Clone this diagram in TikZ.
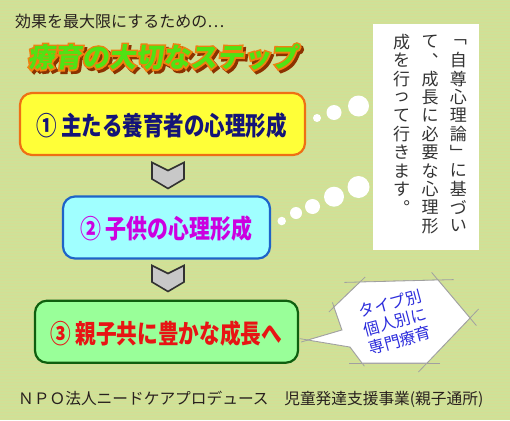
\documentclass[tikz,border=0pt]{standalone}
\usepackage{fontspec}
\usepackage{graphicx}
\newfontfamily\jp{Noto Sans CJK JP}
\newfontfamily\jpt[FakeSlant=0.12]{Noto Sans CJK JP}
\newfontfamily\jpto[FakeSlant=0.12,FakeBold=12,BoldFeatures={FakeBold=12}]{Noto Sans CJK JP}
\usetikzlibrary{calc}
\definecolor{bg}{RGB}{206,226,152}
\definecolor{bgA}{RGB}{222,218,146}
\definecolor{subtxt}{RGB}{40,32,30}
\definecolor{ttlgreen}{RGB}{80,226,20}
\definecolor{ttlorange}{RGB}{240,128,16}
\definecolor{ttlbrown}{RGB}{140,50,0}
\definecolor{yfill}{RGB}{255,255,56}
\definecolor{yline}{RGB}{238,112,20}
\definecolor{navytxt}{RGB}{20,20,120}
\definecolor{cfill}{RGB}{160,255,255}
\definecolor{cline}{RGB}{30,100,200}
\definecolor{purptxt}{RGB}{204,0,224}
\definecolor{gfill}{RGB}{153,255,153}
\definecolor{gline}{RGB}{15,95,15}
\definecolor{redtxt}{RGB}{232,20,20}
\definecolor{chevfill}{RGB}{200,200,200}
\definecolor{chevline}{RGB}{50,50,50}
\definecolor{vtxt}{RGB}{51,51,51}
\definecolor{bubtxt}{RGB}{44,44,220}
\definecolor{bubline}{RGB}{160,160,160}
\begin{document}
\begin{tikzpicture}[x=1pt,y=-1pt,
  stepbox/.style={rounded corners=12pt, line width=2.2pt, inner sep=0},
  steptxt/.style={inner sep=0, font=\jp\bfseries\fontsize{26}{30}\selectfont},
  chev/.style={fill=chevfill, draw=chevline, line width=1.6pt, line join=miter},
  dot/.style={circle, fill=white, inner sep=0},
  ttl/.style={inner sep=0, font=\jpt\bfseries\fontsize{27}{30}\selectfont},
  ttlo/.style={inner sep=0, font=\jpto\bfseries\fontsize{27}{30}\selectfont},
  vchar/.style={inner sep=0, text=vtxt, font=\jp\fontsize{17}{18}\selectfont},
  bubedge/.style={draw=bubline, line width=0.8pt}
]
\fill[bg] (0,0) rectangle (510,420);
\useasboundingbox (0,0) rectangle (510,420);
% light texture
\foreach \yy in {1,4,...,419} {
  \draw[bgA, line width=0.9pt, opacity=0.5] (0,\yy) -- (510,\yy);
}

% subtitle
\node[inner sep=0, anchor=west, text=subtxt, font=\jp\fontsize{16}{18}\selectfont] (sub) at (15,21.5) {効果を最大限にするための…};

% title with outline and shadow
\node[ttlo, text=ttlbrown] (titleshadow) at (165.5,59.5) {療育の大切なステップ};
\node[ttlo, text=ttlorange] (titleoutline) at (163,57) {療育の大切なステップ};
\node[ttl, text=ttlgreen] (title) at (163,57) {療育の大切なステップ};

% step boxes
\node[stepbox, draw=yline, fill=yfill, minimum width=285pt, minimum height=62pt] (b1) at (162.5,124) {};
\node[steptxt, text=navytxt] (t1) at (161.5,126) {\resizebox{251pt}{\height}{① 主たる養育者の心理形成}};

\node[stepbox, draw=cline, fill=cfill, minimum width=207pt, minimum height=62pt] (b2) at (166.5,227.5) {};
\node[steptxt, text=purptxt] (t2) at (166,229) {\resizebox{172pt}{\height}{② 子供の心理形成}};

\node[stepbox, draw=gline, fill=gfill, minimum width=263pt, minimum height=62pt] (b3) at (166.5,331.7) {};
\node[steptxt, text=redtxt] (t3) at (166,334) {\resizebox{232pt}{\height}{③ 親子共に豊かな成長へ}};

% chevrons
\coordinate (ch1) at (168,162.5);
\coordinate (ch2) at (168,265.5);
\foreach \c in {ch1,ch2} {
  \draw[chev] ($(\c)+(-16,0)$) -- ($(\c)+(0,8)$) -- ($(\c)+(16,0)$) -- ($(\c)+(16,16.5)$) -- ($(\c)+(0,26)$) -- ($(\c)+(-16,16.5)$) -- cycle;
}

% thought bubbles
\node[dot, minimum size=21pt] (d11) at (358.5,106) {};
\node[dot, minimum size=15pt] (d12) at (334,112.5) {};
\node[dot, minimum size=8pt] (d13) at (317,118) {};
\node[dot, minimum size=22pt] (d21) at (358.5,187) {};
\node[dot, minimum size=20pt] (d22) at (334,196.7) {};
\node[dot, minimum size=15pt] (d23) at (312.5,206.5) {};
\node[dot, minimum size=12pt] (d24) at (296,213) {};
\node[dot, minimum size=8.5pt] (d25) at (281.7,221) {};

% vertical text box
\node[fill=white, inner sep=0, minimum width=106pt, minimum height=226pt] (vbox) at (426,137) {};
\foreach \ch [count=\i from 0] in {﹁,自,尊,心,理,論,﹂,に,基,づ,い} {
  \node[vchar] at (458.3,{42+18.4*\i}) {\ch};
}
\foreach \ch [count=\i from 0] in {て,︑,成,長,に,必,要,な,心,理,形} {
  \node[vchar] at (430,{42+18.4*\i}) {\ch};
}
\foreach \ch [count=\i from 0] in {成,を,行,っ,て,行,き,ま,す,︒} {
  \node[vchar] at (401.7,{42+18.4*\i}) {\ch};
}

% speech bubble
\coordinate (pA) at (360,282);
\coordinate (pB) at (438,280);
\coordinate (pC) at (470,318);
\coordinate (pD) at (427,363);
\coordinate (pE) at (362,363);
\coordinate (pF) at (350,347);
\coordinate (pG) at (308,340);
\coordinate (pH) at (342,330);
\coordinate (pI) at (334,307);
\foreach \p/\q in {pA/pB,pB/pC,pC/pD,pD/pE,pE/pF,pF/pG,pG/pH,pH/pI,pI/pA} {
  \draw[bubedge] ($(\p)!-0.2!(\q)$) -- ($(\q)!-0.2!(\p)$);
}
\fill[white] (pA) -- (pB) -- (pC) -- (pD) -- (pE) -- (pF) -- (pG) -- (pH) -- (pI) -- cycle;
\draw[draw=bubline, line width=0.8pt, line join=miter] (pA) -- (pB) -- (pC) -- (pD) -- (pE) -- (pF) -- (pG) -- (pH) -- (pI) -- cycle;
\node[rotate=15, align=center, inner sep=0, text=bubtxt, font=\jp\fontsize{16}{19}\selectfont] (btxt) at (395,322) {タイプ別\\個人別に\\専門療育};

% footer
\node[inner sep=0, anchor=west, text=subtxt, font=\jp\fontsize{15.7}{18}\selectfont] (foot) at (18,399) {ＮＰＯ法人ニードケアプロデュース　児童発達支援事業(親子通所)};
\end{tikzpicture}
\end{document}
